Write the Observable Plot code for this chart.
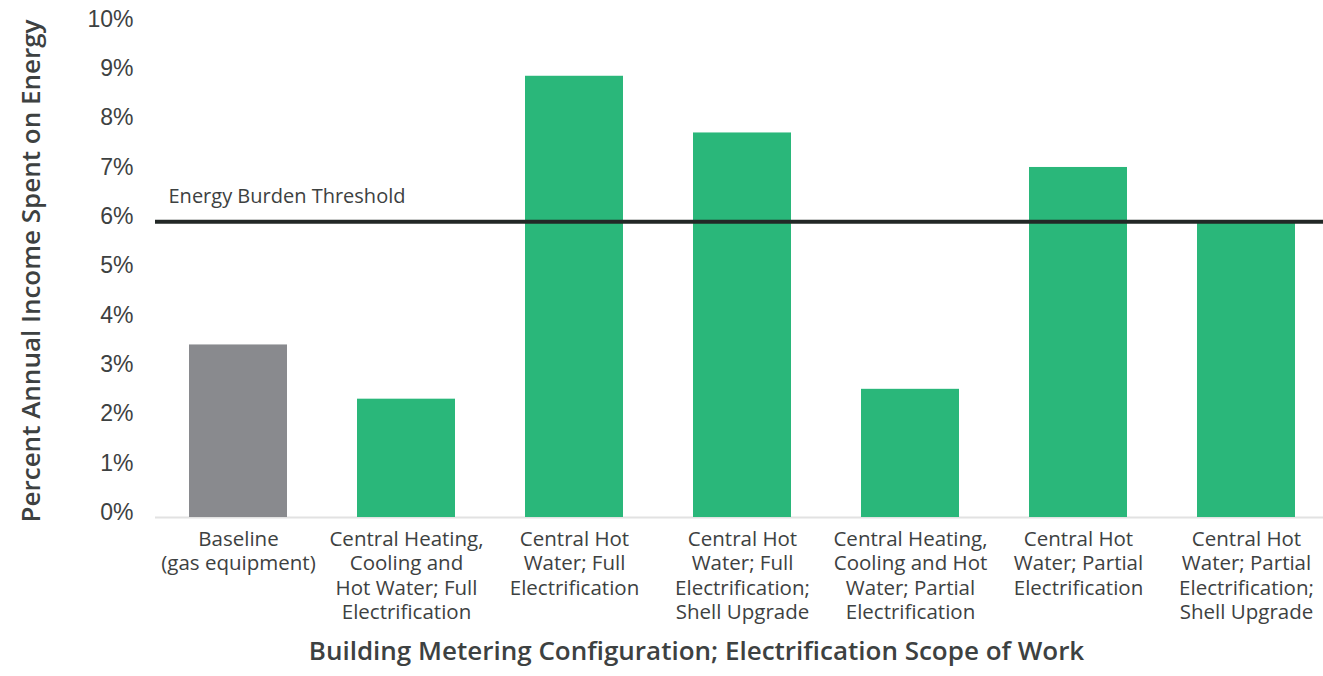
<!DOCTYPE html>
<html>
<head>
<meta charset="utf-8">
<script src="https://cdn.jsdelivr.net/npm/d3@7"></script>
<script src="https://cdn.jsdelivr.net/npm/@observablehq/plot@0.6"></script>
<style>
  html, body { margin: 0; padding: 0; background: #fff; }
  #chart svg { display: block; }
</style>
</head>
<body>
<div id="chart"></div>
<script>
// Building configurations and the share of annual income spent on energy (%)
const categories = [
  "Baseline\n(gas equipment)",
  "Central Heating,\nCooling and\nHot Water; Full\nElectrification",
  "Central Hot\nWater; Full\nElectrification",
  "Central Hot\nWater; Full\nElectrification;\nShell Upgrade",
  "Central Heating,\nCooling and Hot\nWater; Partial\nElectrification",
  "Central Hot\nWater; Partial\nElectrification",
  "Central Hot\nWater; Partial\nElectrification;\nShell Upgrade"
];
const values = [3.5, 2.4, 8.95, 7.8, 2.6, 7.1, 6.0];
const groups = ["baseline", "scenario", "scenario", "scenario", "scenario", "scenario", "scenario"];
const yTicks = [0, 1, 2, 3, 4, 5, 6, 7, 8, 9, 10];
const threshold = 6;
const thresholdLabel = "Energy Burden Threshold";
const xTitle = "Building Metering Configuration; Electrification Scope of Work";
const yTitle = "Percent Annual Income Spent on Energy";

const data = categories.map((c, i) => ({category: c, value: values[i], group: groups[i]}));

const textColor = "#3d4141";
const labelFont = "'Open Sans', Roboto, sans-serif";

const chart = Plot.plot({
  width: 1323,
  height: 676,
  marginLeft: 155,
  marginRight: 0,
  marginTop: 24,
  marginBottom: 159,
  style: {fontFamily: labelFont, color: textColor, background: "#fff"},
  x: {domain: categories, range: [154, 1330], paddingInner: 0.417, paddingOuter: 0.2085, axis: null},
  y: {domain: [0, 10], axis: null},
  color: {domain: ["baseline", "scenario"], range: ["#898a8e", "#2ab77a"]},
  marks: [
    // y tick labels
    Plot.text(yTicks, {
      y: d => d, text: d => `${d}%`, frameAnchor: "left", textAnchor: "end",
      dx: -22, dy: -5, fontSize: 23, fill: textColor,
      fontFamily: "'Liberation Sans', Arial, sans-serif"
    }),
    // baseline axis line
    Plot.ruleY([0], {stroke: "#e2e2e2", strokeWidth: 2}),
    Plot.barY(data, {x: "category", y: "value", fill: "group"}),
    // category labels under each bar
    Plot.text(data, {
      x: "category", y: 0, text: "category", lineAnchor: "top",
      dy: 11, fontSize: 20.5, lineHeight: 1.19, fill: textColor
    }),
    // threshold line and its label
    Plot.ruleY([threshold], {stroke: "#222826", strokeWidth: 4}),
    Plot.text([thresholdLabel], {
      y: threshold, frameAnchor: "left", textAnchor: "start",
      dx: 13, dy: -25, fontSize: 20, fill: textColor
    }),
    // axis titles
    Plot.text([xTitle], {
      frameAnchor: "bottom", dx: -43, dy: 142, fontSize: 26,
      fontWeight: 600, fill: textColor
    }),
    Plot.text([yTitle], {
      frameAnchor: "left", textAnchor: "middle", rotate: -90, dx: -124, fontSize: 26,
      fontWeight: 600, fill: textColor
    })
  ]
});

document.getElementById("chart").appendChild(chart);
</script>
</body>
</html>
